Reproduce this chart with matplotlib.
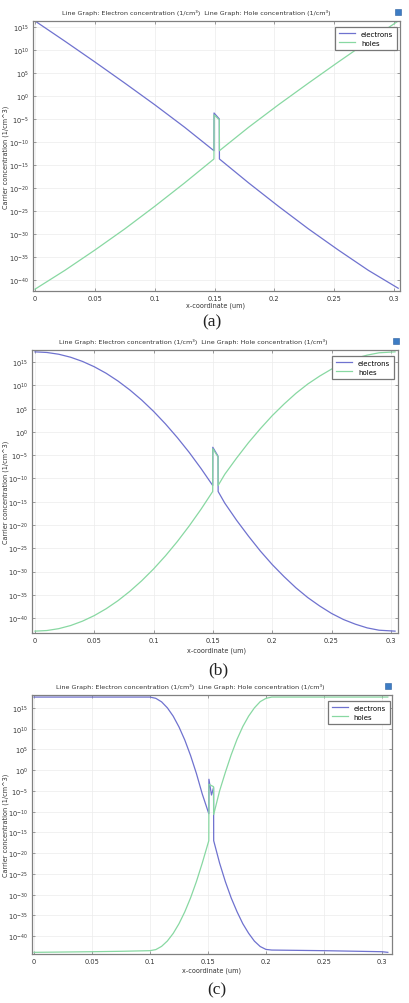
import numpy as np
import matplotlib.pyplot as plt
from matplotlib.patches import Rectangle
from matplotlib.ticker import FixedLocator, FixedFormatter

W, H = 409, 1004

# values are log10 of concentration (1/cm^3)
# panel (a)
xa_e = [0, 0.025, 0.05, 0.075, 0.1, 0.125, 0.1495, 0.1496, 0.154, 0.1541,
        0.1785, 0.2035, 0.2285, 0.2535, 0.2785, 0.3035]
la_e = [16.3, 11.9, 7.4, 2.8, -1.9, -6.8, -11.9, -3.7, -5.0, -13.7,
        -18.9, -24.0, -28.9, -33.5, -37.9, -41.8]
xa_h = [0, 0.025, 0.05, 0.075, 0.1, 0.125, 0.1495, 0.1496, 0.154, 0.1541,
        0.1785, 0.2035, 0.2285, 0.2535, 0.2785, 0.3035]
la_h = [-42.0, -37.9, -33.5, -28.9, -24.0, -18.9, -13.7, -4.1, -5.2, -11.9,
        -6.8, -1.9, 2.8, 7.4, 11.9, 16.3]

# panel (b)
xb_e = [0, 0.01, 0.02, 0.03, 0.04, 0.05, 0.06, 0.07, 0.08, 0.09, 0.1, 0.11,
        0.12, 0.13, 0.14, 0.1498, 0.1499, 0.1543, 0.1544, 0.16, 0.17, 0.18,
        0.19, 0.2, 0.21, 0.22, 0.23, 0.24, 0.25, 0.26, 0.27, 0.28, 0.29, 0.3035]
lb_e = [17.2, 17.07, 16.69, 16.05, 15.15, 14.0, 12.6, 10.93, 9.01, 6.84, 4.41,
        1.72, -1.22, -4.4, -7.87, -11.5, -3.3, -5.2, -12.8, -15.3, -19.0, -22.4,
        -25.6, -28.5, -31.1, -33.5, -35.6, -37.4, -39.0, -40.3, -41.3, -42.1,
        -42.6, -42.8]
xb_h = [0, 0.01, 0.02, 0.03, 0.04, 0.05, 0.06, 0.07, 0.08, 0.09, 0.1, 0.11,
        0.12, 0.13, 0.14, 0.1498, 0.1499, 0.1543, 0.1544, 0.16, 0.17, 0.18,
        0.19, 0.2, 0.21, 0.22, 0.23, 0.24, 0.25, 0.26, 0.27, 0.28, 0.29, 0.3035]
lb_h = [-42.8, -42.67, -42.27, -41.6, -40.66, -39.46, -37.99, -36.25, -34.24,
        -31.97, -29.43, -26.62, -23.55, -20.2, -16.6, -12.8, -3.6, -5.4, -11.5,
        -9.1, -5.6, -2.3, 0.7, 3.5, 6.0, 8.3, 10.3, 12.0, 13.5, 14.8, 15.8,
        16.5, 17.0, 17.2]

# panel (c)
xc_e = [0, 0.05, 0.1, 0.105, 0.11, 0.115, 0.12, 0.125, 0.13, 0.135, 0.14,
        0.145, 0.1507, 0.1508, 0.153, 0.1548, 0.1549, 0.16, 0.165, 0.17, 0.175,
        0.18, 0.185, 0.19, 0.195, 0.2, 0.205, 0.25, 0.3, 0.305]
lc_e = [17.6, 17.6, 17.6, 17.3, 16.45, 15.0, 13.0, 10.4, 7.25, 3.5, -0.8,
        -5.7, -10.5, -2.2, -6.0, -4.2, -17.0, -22.4, -26.9, -30.8, -34.1,
        -37.0, -39.3, -41.2, -42.5, -43.2, -43.35, -43.5, -43.75, -43.9]
xc_h = [0, 0.05, 0.075, 0.1, 0.105, 0.11, 0.115, 0.12, 0.125, 0.13, 0.135,
        0.14, 0.145, 0.1507, 0.1508, 0.1548, 0.1549, 0.16, 0.165, 0.17, 0.175,
        0.18, 0.185, 0.19, 0.195, 0.2, 0.205, 0.305]
lc_h = [-43.9, -43.75, -43.65, -43.5, -43.24, -42.46, -41.16, -39.34, -37.0,
        -34.14, -30.76, -26.86, -22.44, -17.0, -3.4, -4.0, -10.7, -5.0, -0.5,
        3.7, 7.4, 10.5, 13.0, 15.0, 16.5, 17.3, 17.6, 17.6]

ytick_exp = [15, 10, 5, 0, -5, -10, -15, -20, -25, -30, -35, -40]
xticks = [0, 0.05, 0.1, 0.15, 0.2, 0.25, 0.3]
xtick_labels = ['0', '0.05', '0.1', '0.15', '0.2', '0.25', '0.3']

c_e = '#6f72cf'
c_h = '#88d8a2'
title = 'Line Graph: Electron concentration (1/cm³)  Line Graph: Hole concentration (1/cm³)'

# pixel layout: axes box (l, t, r, b), xlim, ylim exponents, title (x, y), icon x,
# legend anchor, xlabel (x, y), caption (x, y)
panels = [
    dict(box=(33, 22, 400, 292), xlim=(-0.0017, 0.305), ylim=(-42.4, 16.3),
         title=(196, 13), icon=398, leg=(0.992, 0.978), xl=(215, 306),
         cap=('(a)', 212, 322), e=(xa_e, la_e), h=(xa_h, la_h)),
    dict(box=(32, 351, 398, 634), xlim=(-0.0025, 0.306), ylim=(-43.2, 17.6),
         title=(193, 342), icon=396, leg=(0.989, 0.979), xl=(217, 651),
         cap=('(b)', 218, 670), e=(xb_e, lb_e), h=(xb_h, lb_h)),
    dict(box=(32, 696, 392, 955), xlim=(-0.0017, 0.3086), ylim=(-44.3, 18.1),
         title=(190, 687), icon=388, leg=(0.994, 0.977), xl=(212, 971),
         cap=('(c)', 217, 990), e=(xc_e, lc_e), h=(xc_h, lc_h)),
]

fig = plt.figure(figsize=(W / 100, H / 100), dpi=100)
fig.patch.set_facecolor('white')

for p in panels:
    l, t, r, b = p['box']
    ax = fig.add_axes([l / W, 1 - b / H, (r - l) / W, (b - t) / H])
    ax.semilogy(p['e'][0], 10.0 ** np.array(p['e'][1]), color=c_e, lw=0.9,
                label='electrons')
    ax.semilogy(p['h'][0], 10.0 ** np.array(p['h'][1]), color=c_h, lw=0.9,
                label='holes')
    ax.set_xlim(*p['xlim'])
    ax.set_ylim(10.0 ** p['ylim'][0], 10.0 ** p['ylim'][1])
    ax.yaxis.set_major_locator(FixedLocator([10.0 ** k for k in ytick_exp]))
    ax.yaxis.set_major_formatter(FixedFormatter(['$10^{%d}$' % k for k in ytick_exp]))
    ax.yaxis.set_minor_locator(FixedLocator([]))
    ax.set_xticks(xticks)
    ax.set_xticklabels(xtick_labels)
    ax.tick_params(direction='in', length=2, width=0.5, colors='#777777',
                   labelcolor='#333333', labelsize=4.8, pad=3,
                   top=True, right=True)
    ax.grid(True, color='#ececec', lw=0.5)
    for s in ax.spines.values():
        s.set_color('#808080')
        s.set_linewidth(0.9)
    leg = ax.legend(loc='upper right', bbox_to_anchor=p['leg'], borderaxespad=0,
                    fontsize=5, handlelength=2.4, fancybox=False,
                    framealpha=1, edgecolor='#777777', borderpad=0.55,
                    labelspacing=0.45)
    leg.get_frame().set_linewidth(0.9)

    tx, ty = p['title']
    fig.text(tx / W, 1 - ty / H, title, ha='center', va='center', fontsize=4.55,
             color='#333333')
    fig.add_artist(Rectangle(((p['icon'] - 3) / W, 1 - (ty + 3) / H), 6 / W, 6 / H,
                             transform=fig.transFigure, facecolor='#3d7cc4',
                             edgecolor='#2a5f9e', lw=0.4))
    fig.text(6 / W, 1 - (t + b) / 2 / H, 'Carrier concentration (1/cm^3)',
             rotation=90, ha='center', va='center', fontsize=4.7, color='#333333')
    xx, xy = p['xl']
    fig.text(xx / W, 1 - xy / H, 'x-coordinate (um)', ha='center', va='center',
             fontsize=4.7, color='#333333')
    cap, cx, cy = p['cap']
    fig.text(cx / W, 1 - cy / H, cap, ha='center', va='center', fontsize=12.5,
             family='Liberation Serif', color='#222222')

fig.savefig('out.png', dpi=100)
